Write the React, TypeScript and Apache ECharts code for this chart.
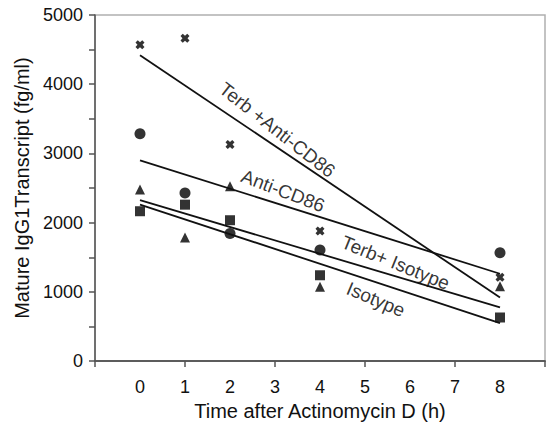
import React, { useEffect, useRef } from "react";
import * as echarts from "echarts";

// ---- data ----
const timePoints = [0, 1, 2, 4, 8];
const crossValues = [4570, 4665, 3130, 1880, 1210];
const circleValues = [3285, 2430, 1845, 1605, 1565];
const triangleValues = [2480, 1785, 2525, 1075, 1080];
const squareValues = [2165, 2260, 2035, 1240, 630];

const fitX = [0, 8];
const fitTerbAntiCD86 = [4420, 918];
const fitAntiCD86 = [2900, 1262];
const fitTerbIsotype = [2325, 775];
const fitIsotype = [2262, 550];

const lineLabels = ["Terb +Anti-CD86", "Anti-CD86", "Terb+ Isotype", "Isotype"];
const lineLabelX = [3.05, 3.18, 5.68, 5.24];
const lineLabelY = [3340, 2460, 1420, 890];
const lineLabelAngle = [-38, -21, -22, -23];

const xTickLabels = ["0", "1", "2", "3", "4", "5", "6", "7", "8"];

const FONT = "'Liberation Sans', Arial, Helvetica, sans-serif";

const crossPath =
  "path://M2.5,0 L5,2.2 L7.5,0 L10,2.5 L7.8,5 L10,7.5 L7.5,10 L5,7.8 L2.5,10 L0,7.5 L2.2,5 L0,2.5 Z";

export default function App() {
  const ref = useRef<HTMLDivElement>(null);
  useEffect(() => {
    if (!ref.current) return;
    const chart = echarts.init(ref.current, undefined, { renderer: "svg" });
    const pts = (vals: number[]) => timePoints.map((t, i) => [t, vals[i]]);
    const fit = (vals: number[]) => fitX.map((t, i) => [t, vals[i]]);
    const lineStyle = { color: "#111", width: 1.8 };
    const axisLineStyle = { color: "#555", width: 1.5 };
    const option: any = {
      animation: false,
      backgroundColor: "#fff",
      grid: {
        left: 95,
        right: 1,
        top: 15,
        bottom: 64,
        show: true,
        borderColor: "#b0b0b0",
        borderWidth: 1.5,
      },
      xAxis: [
        {
          type: "value",
          min: -1,
          max: 9,
          interval: 1,
          position: "bottom",
          axisLine: { show: true, onZero: false, lineStyle: axisLineStyle },
          axisTick: { show: false },
          splitLine: { show: false },
          axisLabel: {
            margin: 17,
            fontSize: 18,
            fontFamily: FONT,
            color: "#111",
            formatter: (v: number) => {
              const i = Math.round(v);
              return i >= 0 && i < xTickLabels.length ? xTickLabels[i] : "";
            },
          },
          name: "Time after Actinomycin D (h)",
          nameLocation: "middle",
          nameGap: 37,
          nameTextStyle: { fontSize: 20, fontFamily: FONT, color: "#111" },
        },
        {
          type: "value",
          min: -1,
          max: 9,
          interval: 2,
          position: "bottom",
          axisLine: { show: true, onZero: false, lineStyle: axisLineStyle },
          axisTick: { show: true, inside: false, length: 6, lineStyle: axisLineStyle },
          axisLabel: { show: false },
          splitLine: { show: false },
        },
      ],
      yAxis: {
        type: "value",
        min: 0,
        max: 5000,
        interval: 1000,
        axisLine: { show: true, onZero: false, lineStyle: axisLineStyle },
        axisTick: { show: true, length: 6, lineStyle: axisLineStyle },
        minorTick: { show: true, splitNumber: 2, length: 6, lineStyle: axisLineStyle },
        splitLine: { show: false },
        axisLabel: {
          margin: 12,
          fontSize: 18,
          fontFamily: FONT,
          color: "#111",
          formatter: (v: number) => String(v),
        },
        name: "Mature IgG1Transcript (fg/ml)",
        nameLocation: "middle",
        nameGap: 54,
        nameTextStyle: { fontSize: 20, fontFamily: FONT, color: "#111" },
      },
      series: [
        { type: "line", data: fit(fitTerbAntiCD86), symbol: "none", lineStyle, silent: true },
        { type: "line", data: fit(fitAntiCD86), symbol: "none", lineStyle, silent: true },
        { type: "line", data: fit(fitTerbIsotype), symbol: "none", lineStyle, silent: true },
        { type: "line", data: fit(fitIsotype), symbol: "none", lineStyle, silent: true },
        { type: "scatter", data: pts(squareValues), symbol: "rect", symbolSize: 10, itemStyle: { color: "#000" } },
        { type: "scatter", data: pts(triangleValues), symbol: "triangle", symbolSize: 10, itemStyle: { color: "#000" } },
        { type: "scatter", data: pts(circleValues), symbol: "circle", symbolSize: 11, itemStyle: { color: "#000" } },
        { type: "scatter", data: pts(crossValues), symbol: crossPath, symbolSize: 9, itemStyle: { color: "#000" } },
        {
          type: "scatter",
          silent: true,
          symbolSize: 0,
          data: lineLabels.map((name, i) => ({
            value: [lineLabelX[i], lineLabelY[i]],
            label: {
              show: true,
              position: "inside",
              formatter: name,
              rotate: lineLabelAngle[i],
              fontSize: 19,
              fontFamily: FONT,
              color: "#000",
              textBorderWidth: 0,
            },
          })),
        },
      ],
    };
    chart.setOption(option);
    return () => chart.dispose();
  }, []);
  return (
    <div
      ref={ref}
      style={{ position: "fixed", left: 0, top: 0, width: 548, height: 426, background: "#fff" }}
    />
  );
}
